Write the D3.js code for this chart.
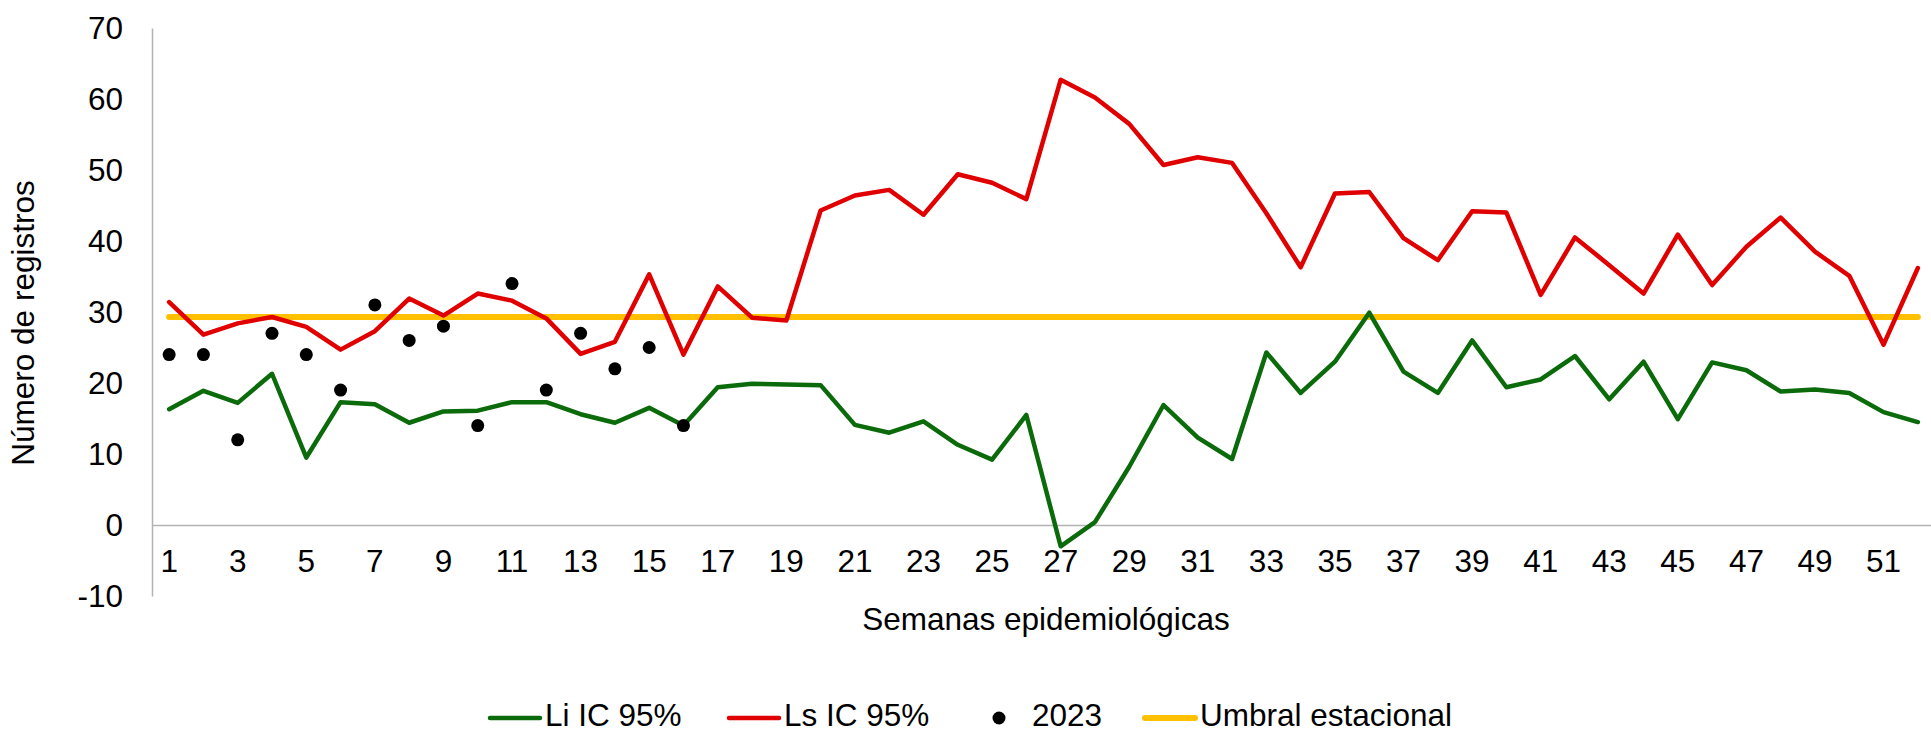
<!DOCTYPE html>
<html>
<head>
<meta charset="utf-8">
<script src="https://cdn.jsdelivr.net/npm/d3@7"></script>
<style>
    body { margin: 0; background: #fff; }
    text { font-family: Arial, "Liberation Sans", sans-serif; fill: #000; }
</style>
</head>
<body>
<svg id="chart" width="1931" height="733"></svg>
<script>
// semanas epidemiologicas 1..52
var weeks = d3.range(1, 53);
var liIC = [16.3, 18.9, 17.2, 21.3, 9.5, 17.3, 17.0, 14.4, 16.0, 16.1,
    17.3, 17.3, 15.6, 14.4, 16.5, 14.0, 19.4, 19.9, 19.8, 19.7,
    14.1, 13.0, 14.6, 11.3, 9.2, 15.5, -3.0, 0.4, 8.2, 16.9,
    12.3, 9.3, 24.3, 18.6, 23.0, 29.9, 21.6, 18.6, 26.0, 19.4,
    20.5, 23.8, 17.7, 23.0, 14.9, 22.9, 21.8, 18.8, 19.1, 18.6,
    15.9, 14.5];
var lsIC = [31.4, 26.8, 28.4, 29.3, 27.9, 24.7, 27.3, 31.9, 29.5, 32.6,
    31.6, 29.1, 24.1, 25.8, 35.3, 24.0, 33.6, 29.2, 28.8, 44.3,
    46.4, 47.2, 43.7, 49.4, 48.2, 45.9, 62.7, 60.2, 56.5, 50.7,
    51.8, 51.0, 43.9, 36.3, 46.7, 46.9, 40.4, 37.3, 44.2, 44.0,
    32.4, 40.5, 36.6, 32.6, 40.9, 33.8, 39.2, 43.3, 38.5, 35.1,
    25.4, 36.2];
var casos2023 = [24, 24, 12, 27, 24, 19, 31, 26, 28, 14, 34, 19, 27, 22, 25, 14];
var umbral = 29.3;
var yTicks = [-10, 0, 10, 20, 30, 40, 50, 60, 70];
var xTickLabels = weeks.filter(function(w) { return w % 2 === 1; });

var fontSize = "31.5px";
var svg = d3.select("#chart");
var margin = { top: 28, left: 152, right: -4, bottom: 137 };
var width = +svg.attr("width") - margin.left - margin.right,
    height = +svg.attr("height") - margin.top - margin.bottom;

var g = svg.append("g").attr("transform", "translate(" + margin.left + "," + margin.top + ")");

var x = d3.scaleBand().domain(weeks).range([0, width]);
var y = d3.scaleLinear().domain([-10, 70]).range([height, 0]);
var cx = function(w) { return x(w) + x.bandwidth() / 2; };

// y axis, no tick marks, plain hyphen for negatives
var yAxis = g.append("g")
    .call(d3.axisLeft(y).tickValues(yTicks).tickSize(0).tickPadding(29)
        .tickFormat(function(d) { return String(d); }));
yAxis.select(".domain").attr("stroke", "#b3b3b3").attr("stroke-width", 1.5);
yAxis.selectAll("text").style("font-size", fontSize);

// category axis crosses at 0
var xAxis = g.append("g")
    .attr("transform", "translate(0," + y(0) + ")")
    .call(d3.axisBottom(x).tickValues(xTickLabels).tickSize(0).tickPadding(25));
xAxis.select(".domain").attr("stroke", "#b3b3b3").attr("stroke-width", 1.5);
xAxis.selectAll("text").style("font-size", fontSize);

var line = d3.line()
    .x(function(d, i) { return cx(weeks[i]); })
    .y(function(d) { return y(d); });

g.append("path")
    .datum(weeks.map(function() { return umbral; }))
    .attr("d", line)
    .attr("fill", "none")
    .attr("stroke", "#ffc000")
    .attr("stroke-width", 6)
    .attr("stroke-linecap", "round");

g.append("path")
    .datum(liIC)
    .attr("d", line)
    .attr("fill", "none")
    .attr("stroke", "#0b6b0b")
    .attr("stroke-width", 4.5)
    .attr("stroke-linejoin", "round")
    .attr("stroke-linecap", "round");

g.append("path")
    .datum(lsIC)
    .attr("d", line)
    .attr("fill", "none")
    .attr("stroke", "#e00000")
    .attr("stroke-width", 4.5)
    .attr("stroke-linejoin", "round")
    .attr("stroke-linecap", "round");

g.selectAll(".dot")
    .data(casos2023)
    .enter().append("circle")
    .attr("class", "dot")
    .attr("cx", function(d, i) { return cx(weeks[i]); })
    .attr("cy", function(d) { return y(d); })
    .attr("r", 6.5)
    .attr("fill", "#000");

// axis titles
svg.append("text")
    .attr("transform", "translate(23,323) rotate(-90)")
    .attr("text-anchor", "middle")
    .attr("dy", "0.35em")
    .style("font-size", fontSize)
    .text("Número de registros");

svg.append("text")
    .attr("x", 1046)
    .attr("y", 630)
    .attr("text-anchor", "middle")
    .style("font-size", fontSize)
    .text("Semanas epidemiológicas");

// legend
var legend = [
    { name: "Li IC 95%", color: "#0b6b0b", type: "line", x: 488 },
    { name: "Ls IC 95%", color: "#e00000", type: "line", x: 727 },
    { name: "2023", color: "#000", type: "dot", x: 990 },
    { name: "Umbral estacional", color: "#ffc000", type: "line", x: 1143 }
];
var ly = 716;
legend.forEach(function(d) {
    var lg = svg.append("g").attr("transform", "translate(" + d.x + "," + ly + ")");
    if (d.type === "line") {
        lg.append("line")
            .attr("x1", 2).attr("x2", 52)
            .attr("y1", 2).attr("y2", 2)
            .attr("stroke", d.color)
            .attr("stroke-width", d.color === "#ffc000" ? 6 : 4.5)
            .attr("stroke-linecap", "round");
        lg.append("text").attr("x", 57).attr("dy", "0.32em").style("font-size", fontSize).text(d.name);
    } else {
        lg.append("circle").attr("cx", 9).attr("cy", 2).attr("r", 6.5).attr("fill", d.color);
        lg.append("text").attr("x", 42).attr("dy", "0.32em").style("font-size", fontSize).text(d.name);
    }
});
</script>
</body>
</html>
